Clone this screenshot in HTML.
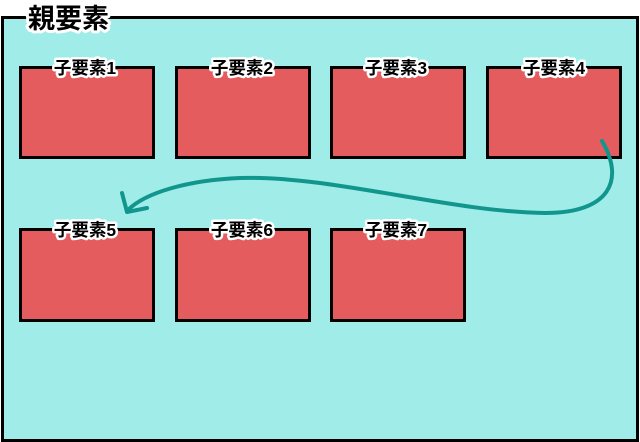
<!DOCTYPE html>
<html><head><meta charset="utf-8"><style>
html,body{margin:0;padding:0;background:#fff;}
svg{display:block}
text{font-family:"Liberation Sans","Noto Sans CJK JP",sans-serif;font-weight:bold;paint-order:stroke;stroke:#fff;stroke-linejoin:round;fill:#000}
</style></head><body>
<svg width="640" height="442" viewBox="0 0 640 442">
<rect x="2.5" y="17.5" width="635" height="423" fill="#a0ece8" stroke="#000" stroke-width="3"/>
<g fill="#e55c5e" stroke="#000" stroke-width="3">
<rect x="20.5" y="67.5" width="133" height="90"/>
<rect x="176.5" y="67.5" width="133" height="90"/>
<rect x="331.5" y="67.5" width="133" height="90"/>
<rect x="487.5" y="67.5" width="133" height="90"/>
<rect x="20.5" y="229.5" width="133" height="91"/>
<rect x="176.5" y="229.5" width="133" height="91"/>
<rect x="331.5" y="229.5" width="133" height="91"/>
</g>
<path d="M602,141 C625,180 610,213 545,213 C450,212 330,175 240,178 C190,180 145,192 127,211" fill="none" stroke="#11968e" stroke-width="4" stroke-linecap="round"/>
<path d="M122,193 L127,212 L147,208" fill="none" stroke="#11968e" stroke-width="4" stroke-linecap="round" stroke-linejoin="round"/>
<text x="28" y="28" font-size="27" stroke-width="6">親要素</text>
<g font-size="17.5" stroke-width="5" text-anchor="middle">
<text x="85" y="74">子要素1</text>
<text x="242" y="74">子要素2</text>
<text x="396" y="74">子要素3</text>
<text x="554" y="74">子要素4</text>
<text x="85" y="236">子要素5</text>
<text x="242" y="236">子要素6</text>
<text x="396" y="236">子要素7</text>
</g>
</svg>
</body></html>
